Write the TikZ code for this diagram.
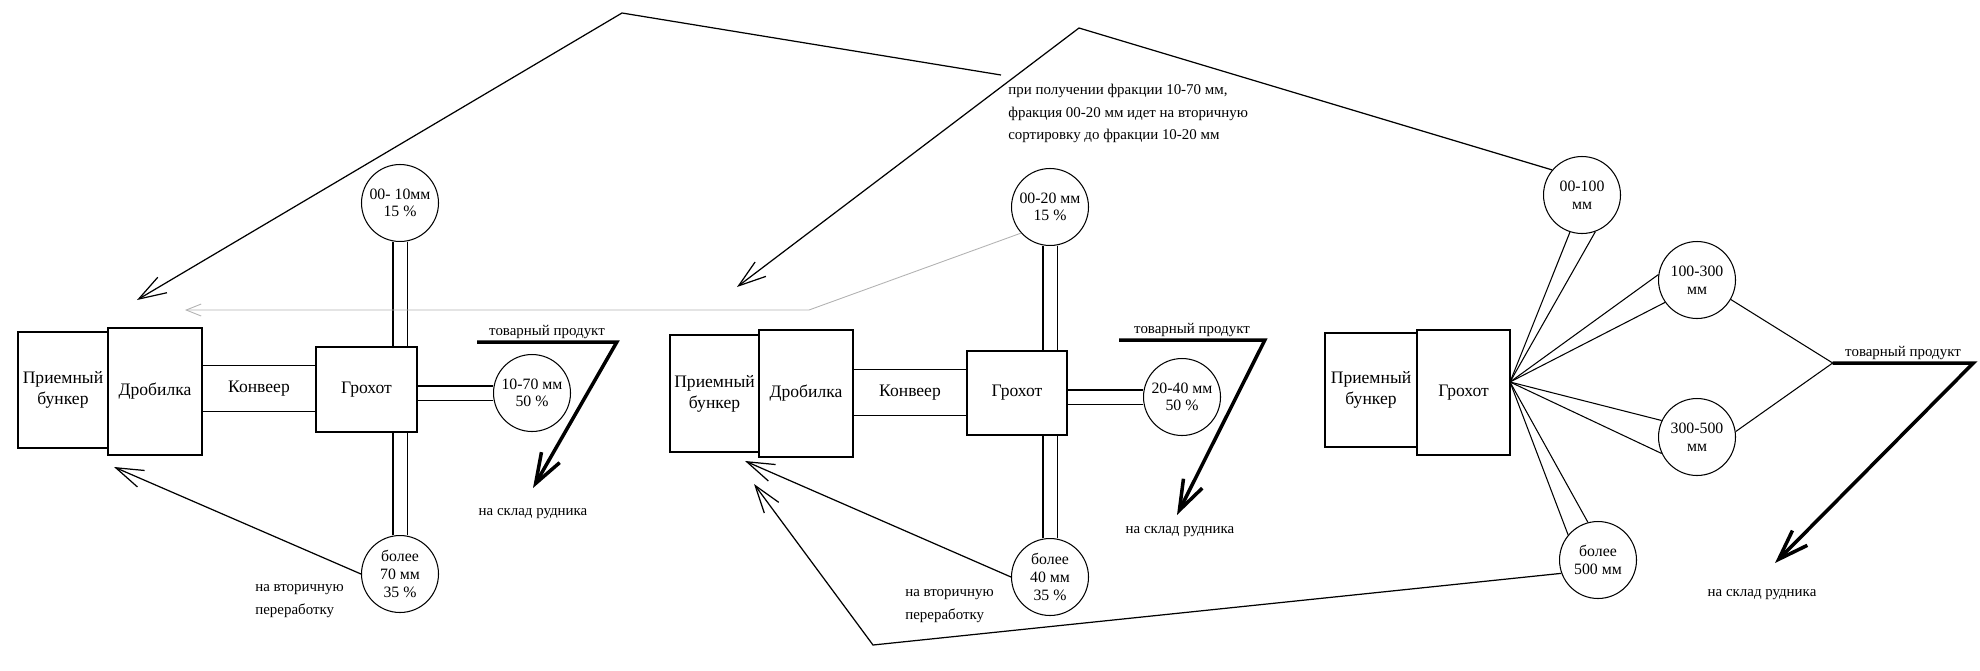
\documentclass[tikz,border=0pt]{standalone}
\usepackage{fontspec}
\setmainfont{Liberation Serif}
\usetikzlibrary{arrows.meta}

\tikzset{
	unit/.style={draw, line width=0.8pt, inner sep=0pt, align=center, font=\fontsize{10}{12}\selectfont},
	frac/.style={draw, circle, line width=0.6pt, minimum size=1.54cm, inner sep=0pt, align=center, font=\fontsize{9}{10}\selectfont},
	pipe/.style={double, double distance=0.26cm, line width=0.6pt},
	belt/.style={inner sep=0pt, minimum width=2.28cm, minimum height=0.92cm, font=\fontsize{10}{12}\selectfont},
	note/.style={inner sep=0pt, align=left, font=\fontsize{8.5}{12.7}\selectfont},
	prod/.style={note, anchor=south, minimum width=2.8cm, inner sep=1.5pt},
	feed/.style={line width=0.7pt, -{Straight Barb[length=0.55cm, width=0.36cm]}},
	ship/.style={line width=2pt, -{Straight Barb[length=0.6cm, width=0.42cm]}},
}

\begin{document}
\begin{tikzpicture}[x=0.02cm, y=-0.02cm]

% frame %{{{2

	\useasboundingbox (0,0) rectangle (1980,670);

% line 1 : bunker, crusher, screen %{{{2

	\node[unit, minimum width=1.8cm, minimum height=2.32cm] (bunkA) at (63,390) {Приемный\\бункер};
	\node[unit, minimum width=1.88cm, minimum height=2.54cm] (crushA) at (155,391.5) {Дробилка};
	\node[belt] (convA) at (259,388.5) {Конвеер};
	\node[unit, minimum width=2.02cm, minimum height=1.7cm] (screenA) at (366.5,389.5) {Грохот};

	\node[frac] (topA) at (400,203) {00- 10мм\\15 \%};
	\node[frac] (rightA) at (532,393) {10-70 мм\\50 \%};
	\node[frac] (botA) at (400,574) {более\\70 мм\\35 \%};

	\node[prod, minimum width=2.78cm] (prodA) at (547,342) {товарный продукт};
	\node[note] (stockA) at (533,514) {на склад рудника};
	\node[note, anchor=west] (redoA) at (255,601) {на вторичную\\переработку};

	\coordinate (tipA) at (533,488);
	\coordinate (backA) at (114,467);

% line 2 : bunker, crusher, screen %{{{2

	\node[unit, minimum width=1.78cm, minimum height=2.34cm] (bunkB) at (714.5,393.5) {Приемный\\бункер};
	\node[unit, minimum width=1.88cm, minimum height=2.54cm] (crushB) at (806,393.5) {Дробилка};
	\node[belt] (convB) at (910,392.5) {Конвеер};
	\node[unit, minimum width=2.0cm, minimum height=1.68cm] (screenB) at (1017,393) {Грохот};

	\node[frac] (topB) at (1050,207) {00-20 мм\\15 \%};
	\node[frac] (rightB) at (1182,397) {20-40 мм\\50 \%};
	\node[frac] (botB) at (1050,577) {более\\40 мм\\35 \%};

	\node[prod, minimum width=2.9cm] (prodB) at (1192,340) {товарный продукт};
	\node[note] (stockB) at (1180,532) {на склад рудника};
	\node[note, anchor=west] (redoB) at (905,606) {на вторичную\\переработку};

	\node[note, anchor=north west] (remark) at (1008,84)
		{при получении фракции 10-70 мм,\\фракция 00-20 мм идет на вторичную\\сортировку до фракции 10-20 мм};

	\coordinate (tipB) at (1177,515);
	\coordinate (backB) at (745,461);

% line 3 : bunker, screen %{{{2

	\node[unit, minimum width=1.84cm, minimum height=2.28cm] (bunkC) at (1371,390) {Приемный\\бункер};
	\node[unit, minimum width=1.86cm, minimum height=2.5cm] (screenC) at (1463.5,392.5) {Грохот};

	\coordinate (fan) at (1510,382);

	\node[frac] (c1) at (1582,195) {00-100\\мм};
	\node[frac] (c2) at (1697,280) {100-300\\мм};
	\node[frac] (c3) at (1697,437) {300-500\\мм};
	\node[frac] (c4) at (1598,560) {более\\500 мм};

	\node[prod, minimum width=2.8cm] (prodC) at (1903,363) {товарный продукт};
	\node[note] (stockC) at (1762,595) {на склад рудника};

	\coordinate (tipC) at (1775,563);

% return routes %{{{2

	\coordinate (noteEnd) at (1001,75);
	\coordinate (peakA) at (622,13);
	\coordinate (topTipA) at (137,300);
	\coordinate (peakB) at (1079,28);
	\coordinate (topTipB) at (737,287);
	\coordinate (bendB) at (809,310);
	\coordinate (backTop) at (185,310);
	\coordinate (turnC) at (873,645);
	\coordinate (backC) at (754,484);

% conveyors %{{{2

	\foreach \b in {convA,convB} {
		\draw[line width=0.6pt] (\b.north west) -- (\b.north east);
		\draw[line width=0.6pt] (\b.south west) -- (\b.south east);
	}

% pipes %{{{2

	\draw[pipe] (topA.south) -- (topA.south |- screenA.north);
	\draw[pipe] (botA.north) -- (botA.north |- screenA.south);
	\draw[pipe] (rightA.west) -- (rightA.west -| screenA.east);

	\draw[pipe] (topB.south) -- (topB.south |- screenB.north);
	\draw[pipe] (botB.north) -- (botB.north |- screenB.south);
	\draw[pipe] (rightB.west) -- (rightB.west -| screenB.east);

	\foreach \c/\a/\b in {c1/252/290, c2/172/215, c3/155/205, c4/105/140} {
		\draw[line width=0.6pt] (fan) -- (\c.\a);
		\draw[line width=0.6pt] (fan) -- (\c.\b);
	}

% product %{{{2

	\draw[ship] (prodA.south west) -- (prodA.south east) -- (tipA);
	\draw[ship] (prodB.south west) -- (prodB.south east) -- (tipB);
	\draw[ship] (prodC.south west) -- (prodC.south east) -- (tipC);

	\draw[line width=0.6pt] (c2.330) -- (prodC.south west);
	\draw[line width=0.6pt] (c3.8) -- (prodC.south west);

% secondary %{{{2

	\draw[feed] (botA.west) -- (backA);
	\draw[feed] (botB.west) -- (backB);
	\draw[feed] (c4.200) -- (turnC) -- (backC);

	\draw[feed] (noteEnd) -- (peakA) -- (topTipA);
	\draw[feed] (c1.140) -- (peakB) -- (topTipB);
	\draw[line width=0.5pt, gray!60, -{Straight Barb[length=0.3cm, width=0.24cm]}]
		(topB.222) -- (bendB) -- (backTop);

% closing %{{{2

\end{tikzpicture}
\end{document}
